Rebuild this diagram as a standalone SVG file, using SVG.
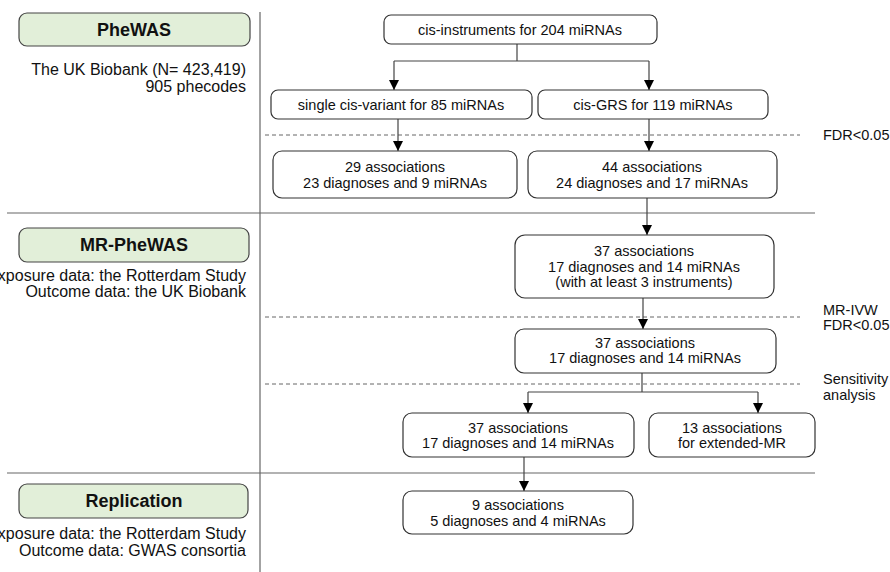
<svg xmlns="http://www.w3.org/2000/svg" width="890" height="572" viewBox="0 0 890 572">
<defs>
<marker id="ah" markerWidth="10" markerHeight="10" refX="10" refY="5" orient="auto" markerUnits="userSpaceOnUse" viewBox="0 0 10 10">
<path d="M0,0 L10,5 L0,10 Z" fill="#000"/>
</marker>
</defs>
<style>
text{font-family:"Liberation Sans",Arial,sans-serif;fill:#111}
.n{font-size:14.5px;text-anchor:middle}
.s{font-size:16px;text-anchor:end}
.r{font-size:14.5px}
.h{font-size:18px;font-weight:bold;text-anchor:middle}
.box{fill:#fff;stroke:#333;stroke-width:1.2}
.gbox{fill:#e2efd9;stroke:#444;stroke-width:1.2}
.sep{stroke:#666;stroke-width:1.2;fill:none}
.dash{stroke:#666;stroke-width:1;stroke-dasharray:4,3;fill:none}
.c{stroke:#444;stroke-width:1.2;fill:none}
</style>
<rect width="890" height="572" fill="#fff"/>
<g id="separators">
<line class="sep" x1="260" y1="12" x2="260" y2="572"/>
<line class="sep" x1="7" y1="213" x2="815" y2="213"/>
<line class="sep" x1="7" y1="473" x2="815" y2="473"/>
<line class="dash" x1="265" y1="135" x2="800" y2="135"/>
<line class="dash" x1="265" y1="317" x2="800" y2="317"/>
<line class="dash" x1="265" y1="384" x2="800" y2="384"/>
</g>
<g id="sec-phewas">
<rect class="gbox" x="19" y="13" width="231" height="33" rx="8"/>
<text class="h" x="134" y="36">PheWAS</text>
<text class="s" x="246" y="75">The UK Biobank (N= 423,419)</text>
<text class="s" x="246" y="92">905 phecodes</text>
</g>
<g id="sec-mrphewas">
<rect class="gbox" x="19" y="228" width="230" height="34" rx="8"/>
<text class="h" x="134" y="251">MR-PheWAS</text>
<text class="s" x="246" y="281">Exposure data: the Rotterdam Study</text>
<text class="s" x="246" y="297">Outcome data: the UK Biobank</text>
</g>
<g id="sec-replication">
<rect class="gbox" x="19" y="484" width="229" height="34" rx="8"/>
<text class="h" x="134" y="507">Replication</text>
<text class="s" x="246" y="539">Exposure data: the Rotterdam Study</text>
<text class="s" x="246" y="556">Outcome data: GWAS consortia</text>
</g>
<g id="right-labels">
<text class="r" x="823" y="140">FDR&lt;0.05</text>
<text class="r" x="823" y="315">MR-IVW</text>
<text class="r" x="823" y="330">FDR&lt;0.05</text>
<text class="r" x="823" y="384">Sensitivity</text>
<text class="r" x="823" y="400">analysis</text>
</g>
<g id="connectors">
<polyline class="c" points="517,44 517,61"/>
<polyline class="c" points="394,61 649,61"/>
<line class="c" x1="394" y1="61" x2="394" y2="90" marker-end="url(#ah)"/>
<line class="c" x1="649" y1="61" x2="649" y2="90" marker-end="url(#ah)"/>
<line class="c" x1="398" y1="119" x2="398" y2="151" marker-end="url(#ah)"/>
<line class="c" x1="649" y1="119" x2="649" y2="151" marker-end="url(#ah)"/>
<line class="c" x1="647" y1="198" x2="647" y2="235" marker-end="url(#ah)"/>
<line class="c" x1="643" y1="298" x2="643" y2="329" marker-end="url(#ah)"/>
<polyline class="c" points="642,373 642,392"/>
<polyline class="c" points="528,392 758,392"/>
<line class="c" x1="528" y1="392" x2="528" y2="413" marker-end="url(#ah)"/>
<line class="c" x1="758" y1="392" x2="758" y2="413" marker-end="url(#ah)"/>
<line class="c" x1="524" y1="457" x2="524" y2="491" marker-end="url(#ah)"/>
</g>
<g id="n-instruments">
<rect class="box" x="384" y="15" width="273" height="29" rx="7"/>
<text class="n" x="520" y="34.5">cis-instruments for 204 miRNAs</text>
</g>
<g id="n-single">
<rect class="box" x="271" y="90" width="261" height="29" rx="7"/>
<text class="n" x="401" y="109.5">single cis-variant for 85 miRNAs</text>
</g>
<g id="n-grs">
<rect class="box" x="538" y="90" width="230" height="29" rx="7"/>
<text class="n" x="653" y="109.5">cis-GRS for 119 miRNAs</text>
</g>
<g id="n-29">
<rect class="box" x="273" y="151" width="244" height="47" rx="9"/>
<text class="n" x="395" y="172">29 associations</text>
<text class="n" x="395" y="188">23 diagnoses and 9 miRNAs</text>
</g>
<g id="n-44">
<rect class="box" x="528" y="151" width="249" height="47" rx="9"/>
<text class="n" x="652" y="172">44 associations</text>
<text class="n" x="652" y="188">24 diagnoses and 17 miRNAs</text>
</g>
<g id="n-37a">
<rect class="box" x="515" y="235" width="259" height="63" rx="10"/>
<text class="n" x="644" y="256">37 associations</text>
<text class="n" x="644" y="272">17 diagnoses and 14 miRNAs</text>
<text class="n" x="644" y="287">(with at least 3 instruments)</text>
</g>
<g id="n-37b">
<rect class="box" x="515" y="329" width="261" height="44" rx="9"/>
<text class="n" x="645" y="348">37 associations</text>
<text class="n" x="645" y="363">17 diagnoses and 14 miRNAs</text>
</g>
<g id="n-37c">
<rect class="box" x="403" y="413" width="231" height="44" rx="9"/>
<text class="n" x="518" y="433">37 associations</text>
<text class="n" x="518" y="448">17 diagnoses and 14 miRNAs</text>
</g>
<g id="n-13">
<rect class="box" x="649" y="413" width="166" height="44" rx="9"/>
<text class="n" x="732" y="433">13 associations</text>
<text class="n" x="732" y="448">for extended-MR</text>
</g>
<g id="n-9">
<rect class="box" x="403" y="491" width="230" height="43" rx="9"/>
<text class="n" x="518" y="510">9 associations</text>
<text class="n" x="518" y="526">5 diagnoses and 4 miRNAs</text>
</g>
</svg>
